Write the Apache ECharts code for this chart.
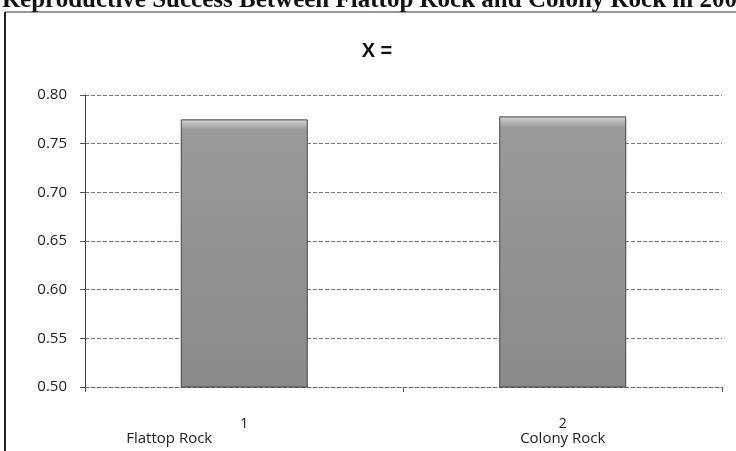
<!DOCTYPE html>
<html>
<head>
<meta charset="utf-8">
<script src="https://cdn.jsdelivr.net/npm/echarts@6/dist/echarts.min.js"></script>
<style>
  html, body { margin: 0; padding: 0; background: #fff; }
  #chart { width: 736px; height: 451px; }
</style>
</head>
<body>
<div id="chart"></div>
<script>
// data
const categories = ['1', '2']
const siteNames = ['Flattop Rock', 'Colony Rock']
const successValues = [0.775, 0.778]
const yTicks = [0.5, 0.55, 0.6, 0.65, 0.7, 0.75, 0.8]

const chart = echarts.init(document.getElementById('chart'))

chart.setOption({
  backgroundColor: '#fff',
  animation: false,
  title: {
    text: 'X =',
    left: 372,
    textAlign: 'center',
    top: 36,
    textStyle: {
      fontFamily: 'Liberation Sans',
      fontWeight: 'bold',
      fontSize: 20,
      color: '#111',
    },
  },
  graphic: [
    // clipped page heading above the chart box
    {
      type: 'text',
      left: 2,
      top: -12,
      style: {
        text: 'Reproductive Success Between Flattop Rock and Colony Rock in 2008',
        font: 'bold 25px "Liberation Serif"',
        fill: '#111',
      },
    },
    // chart frame
    {
      type: 'line',
      shape: { x1: 5, y1: 12, x2: 736, y2: 12 },
      style: { stroke: '#333', lineWidth: 1 },
    },
    {
      type: 'line',
      shape: { x1: 5, y1: 12, x2: 5, y2: 451 },
      style: { stroke: '#222', lineWidth: 2 },
    },
  ],
  grid: {
    left: 85,
    right: 14,
    top: 95,
    bottom: 64,
  },
  xAxis: [
    {
      type: 'category',
      data: categories,
      axisLine: {
        lineStyle: { color: '#666', type: 'dashed', width: 1 },
      },
      axisTick: {
        show: true,
        length: 5,
        lineStyle: { color: '#555' },
      },
      axisLabel: {
        margin: 30,
        fontFamily: 'Open Sans',
        fontSize: 14,
        color: '#222',
      },
    },
    {
      type: 'category',
      position: 'bottom',
      data: [
        { value: siteNames[0], textStyle: { padding: [0, 150, 0, 0] } },
        siteNames[1],
      ],
      axisLine: { show: false },
      axisTick: { show: false },
      axisLabel: {
        margin: 44,
        fontFamily: 'Open Sans',
        fontSize: 15,
        color: '#222',
      },
    },
  ],
  yAxis: {
    type: 'value',
    min: yTicks[0],
    max: yTicks[yTicks.length - 1],
    interval: 0.05,
    axisLine: {
      show: true,
      lineStyle: { color: '#444', width: 1 },
    },
    axisTick: {
      show: true,
      length: 5,
      lineStyle: { color: '#555' },
    },
    axisLabel: {
      margin: 18,
      fontFamily: 'Open Sans',
      fontSize: 15,
      color: '#222',
      formatter: (v) => v.toFixed(2),
    },
    splitLine: {
      lineStyle: { color: '#777', type: 'dashed', width: 1 },
    },
  },
  series: [
    {
      type: 'bar',
      data: successValues,
      barWidth: 127,
      itemStyle: {
        color: {
          type: 'linear',
          x: 0,
          y: 0,
          x2: 0,
          y2: 1,
          colorStops: [
            { offset: 0, color: '#d6d6d6' },
            { offset: 0.04, color: '#9a9a9a' },
            { offset: 1, color: '#8a8a8a' },
          ],
        },
        borderColor: '#444',
        borderWidth: 1,
      },
    },
  ],
})
</script>
</body>
</html>
